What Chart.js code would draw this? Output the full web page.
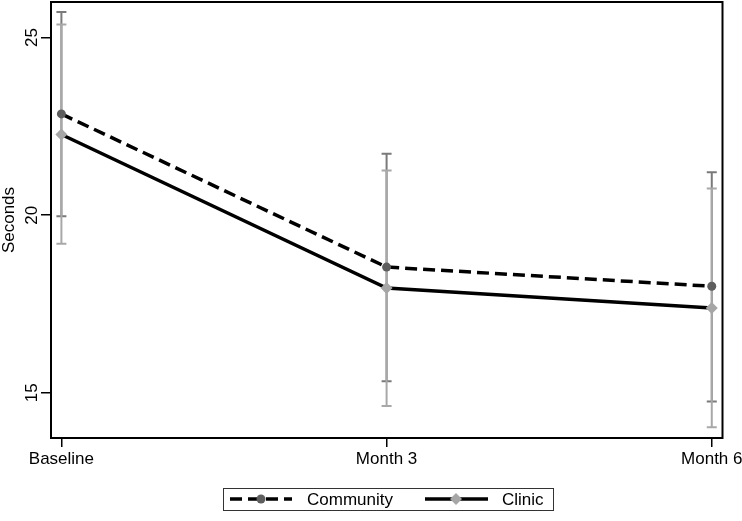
<!DOCTYPE html>
<html>
<head>
<meta charset="utf-8">
<script src="https://cdn.jsdelivr.net/npm/chart.js@4.4.1/dist/chart.umd.min.js"></script>
<style>
  body { margin: 0; background: #fff; }
  #wrap { width: 742px; height: 521px; }
</style>
</head>
<body>
<div id="wrap"><canvas id="grafico"></canvas></div>
<script>
// dados
const categorias = ['Baseline', 'Month 3', 'Month 6'];
const communityMedia = [22.85, 18.54, 18.0];
const communityMin = [19.97, 15.33, 14.76];
const communityMax = [25.72, 21.73, 21.21];
const clinicMedia = [22.27, 17.95, 17.39];
const clinicMin = [19.2, 14.63, 14.03];
const clinicMax = [25.37, 21.26, 20.75];
const ticksY = [15, 20, 25];

const FONTE = "'Liberation Sans', Arial, sans-serif";

const barrasErro = {
    id: 'barrasErro',
    beforeDatasetsDraw(chart) {
        const { ctx, scales: { x, y } } = chart;
        const series = [
            { min: communityMin, max: communityMax, cor: '#7a7a7a' },
            { min: clinicMin, max: clinicMax, cor: '#a8a8a8' }
        ];
        ctx.save();
        series.forEach(s => {
            ctx.strokeStyle = s.cor;
            ctx.lineWidth = 2;
            s.min.forEach((lo, i) => {
                const px = x.getPixelForValue(i);
                const y1 = y.getPixelForValue(lo), y2 = y.getPixelForValue(s.max[i]);
                ctx.beginPath();
                ctx.moveTo(px, y1); ctx.lineTo(px, y2);
                ctx.moveTo(px - 5, y1); ctx.lineTo(px + 5, y1);
                ctx.moveTo(px - 5, y2); ctx.lineTo(px + 5, y2);
                ctx.stroke();
            });
        });
        ctx.restore();
    }
};

const moldura = {
    id: 'moldura',
    afterDraw(chart) {
        const { ctx, chartArea: a, scales: { y } } = chart;
        ctx.save();
        ctx.strokeStyle = '#000';
        ctx.lineWidth = 2;
        ctx.strokeRect(a.left, a.top, a.right - a.left, a.bottom - a.top);

        // rótulos do eixo y, girados como no Stata
        ctx.fillStyle = '#000';
        ctx.font = '17px ' + FONTE;
        ctx.textAlign = 'center';
        ctx.textBaseline = 'alphabetic';
        ticksY.forEach(v => {
            ctx.save();
            ctx.translate(37, y.getPixelForValue(v));
            ctx.rotate(-Math.PI / 2);
            ctx.fillText(String(v), 0, 0);
            ctx.restore();
        });
        ctx.save();
        ctx.translate(14, (a.top + a.bottom) / 2);
        ctx.rotate(-Math.PI / 2);
        ctx.fillText('Seconds', 0, 0);
        ctx.restore();

        // legenda
        const lx = 223, ly = 488, lw = 330, lh = 22, cy = ly + lh / 2;
        ctx.lineWidth = 1;
        ctx.strokeStyle = '#333';
        ctx.strokeRect(lx + 0.5, ly + 0.5, lw, lh);
        ctx.lineWidth = 3.5;
        ctx.strokeStyle = '#000';
        ctx.setLineDash([12, 6]);
        ctx.beginPath(); ctx.moveTo(230, cy); ctx.lineTo(292, cy); ctx.stroke();
        ctx.setLineDash([]);
        ctx.fillStyle = '#5e5e5e';
        ctx.beginPath(); ctx.arc(261, cy, 4.5, 0, Math.PI * 2); ctx.fill();
        ctx.beginPath(); ctx.moveTo(425, cy); ctx.lineTo(488, cy); ctx.stroke();
        ctx.fillStyle = '#a6a6a6';
        ctx.beginPath();
        ctx.moveTo(456, cy - 6); ctx.lineTo(462, cy); ctx.lineTo(456, cy + 6); ctx.lineTo(450, cy);
        ctx.closePath(); ctx.fill();
        ctx.fillStyle = '#000';
        ctx.textAlign = 'left';
        ctx.textBaseline = 'middle';
        ctx.fillText('Community', 307, cy + 1);
        ctx.fillText('Clinic', 502, cy + 1);
        ctx.restore();
    }
};

const pontos = arr => arr.map((v, i) => ({ x: i, y: v }));

new Chart(document.getElementById('grafico'), {
    type: 'line',
    data: {
        datasets: [
            {
                label: 'Community', data: pontos(communityMedia),
                borderColor: '#000', borderWidth: 3.5, borderDash: [12, 6],
                pointStyle: 'circle', pointRadius: 4.5, pointBackgroundColor: '#5e5e5e', pointBorderWidth: 0,
                tension: 0
            },
            {
                label: 'Clinic', data: pontos(clinicMedia),
                borderColor: '#000', borderWidth: 3.5,
                pointStyle: 'rectRot', pointRadius: 6, pointBackgroundColor: '#a6a6a6', pointBorderWidth: 0,
                tension: 0
            }
        ]
    },
    options: {
        responsive: true, maintainAspectRatio: false, animation: false,
        layout: { autoPadding: false, padding: { left: 0, top: 2, right: 19.5, bottom: 0 } },
        plugins: { legend: { display: false }, tooltip: { enabled: false } },
        scales: {
            x: {
                type: 'linear', min: -0.032, max: 2.033,
                afterBuildTicks: s => { s.ticks = [0, 1, 2].map(v => ({ value: v })); },
                afterFit: s => { s.height = 83; s.paddingLeft = 0; s.paddingRight = 0; },
                border: { display: false },
                grid: { drawOnChartArea: false, drawTicks: true, tickLength: 9, color: '#000', lineWidth: 1.5 },
                ticks: {
                    color: '#000', font: { family: FONTE, size: 17 }, padding: 2, maxRotation: 0,
                    callback: v => categorias[v]
                }
            },
            y: {
                min: 13.73, max: 26.0,
                afterBuildTicks: s => { s.ticks = ticksY.map(v => ({ value: v })); },
                afterFit: s => { s.width = 51; s.paddingTop = 0; s.paddingBottom = 0; },
                border: { display: false },
                grid: { drawOnChartArea: false, drawTicks: true, tickLength: 10, color: '#000', lineWidth: 1.5 },
                ticks: { color: 'rgba(0,0,0,0)', font: { family: FONTE, size: 17 } }
            }
        }
    },
    plugins: [barrasErro, moldura]
});
</script>
</body>
</html>
